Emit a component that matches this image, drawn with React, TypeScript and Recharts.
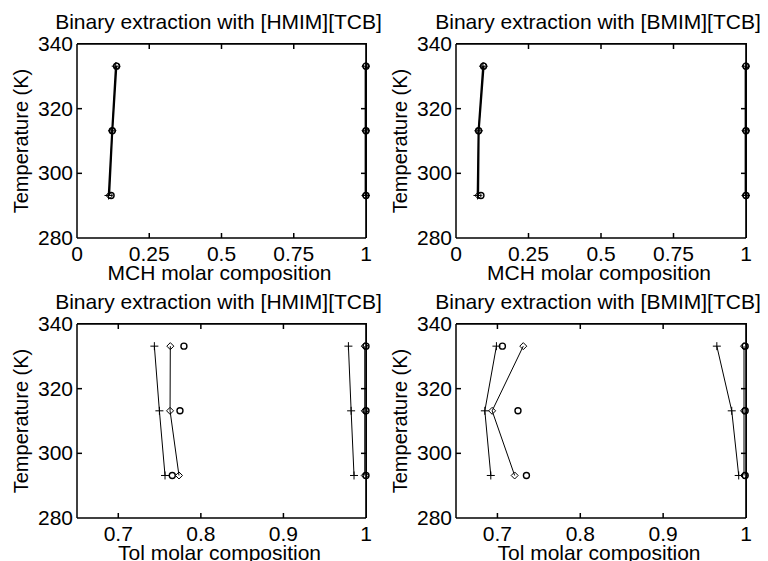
import React from 'react';
import { ScatterChart, Scatter, XAxis, YAxis } from 'recharts';

const FONT = '"Liberation Sans", Arial, Helvetica, sans-serif';

// temperatures (K) shared by every panel
const temperatures = [293.15, 313.15, 333.15];

const yTicks = [280, 300, 320, 340];
const yDomain: [number, number] = [280, 340];
const mchTicks = [0, 0.25, 0.5, 0.75, 1];
const tolTicks = [0.7, 0.8, 0.9, 1];

// MCH + [HMIM][TCB]
const mchHmimPlusExt = [0.109, 0.121, 0.134];
const mchHmimPlusRaf = [1, 1, 1];
const mchHmimDiaExt = [0.112, 0.123, 0.137];
const mchHmimDiaRaf = [0.998, 0.998, 0.998];
const mchHmimCircExt = [0.118, 0.122, 0.137];
const mchHmimCircRaf = [1, 1, 1];

// MCH + [BMIM][TCB]
const mchBmimPlusExt = [0.074, 0.077, 0.093];
const mchBmimPlusRaf = [1, 1, 1];
const mchBmimDiaExt = [0.077, 0.079, 0.096];
const mchBmimDiaRaf = [0.998, 0.998, 0.998];
const mchBmimCircExt = [0.086, 0.078, 0.095];
const mchBmimCircRaf = [1, 1, 1];

// Tol + [HMIM][TCB]
const tolHmimPlusExt = [0.7566, 0.7498, 0.7437];
const tolHmimPlusRaf = [0.9855, 0.982, 0.9787];
const tolHmimDiaExt = [0.7735, 0.7627, 0.763];
const tolHmimDiaRaf = [0.9985, 0.9985, 0.9985];
const tolHmimCircExt = [0.7654, 0.7747, 0.7795];
const tolHmimCircRaf = [1, 1, 1];

// Tol + [BMIM][TCB]
const tolBmimPlusExt = [0.692, 0.6848, 0.6988];
const tolBmimPlusRaf = [0.9912, 0.9828, 0.9648];
const tolBmimDiaExt = [0.7208, 0.6936, 0.7312];
const tolBmimDiaRaf = [0.9976, 0.9976, 0.9976];
const tolBmimCircExt = [0.735, 0.7248, 0.706];
const tolBmimCircRaf = [0.999, 0.999, 0.999];

const rows = (xs: number[]) => temperatures.map((t, i) => ({ x: xs[i], y: t }));

const PLOT_TOP = 44;
const PLOT_H = 194;

const Plus = (p: any) => (
  <path
    d={`M${p.cx - 4},${p.cy}H${p.cx + 4}M${p.cx},${p.cy - 4}V${p.cy + 4}`}
    stroke='#000'
    strokeWidth={1}
    fill='none'
  />
);

const Diamond = (p: any) => (
  <path
    d={`M${p.cx},${p.cy - 3.5}L${p.cx + 3.5},${p.cy}L${p.cx},${p.cy + 3.5}L${p.cx - 3.5},${p.cy}Z`}
    stroke='#000'
    strokeWidth={1}
    fill='none'
  />
);

const Circle = (p: any) => (
  <circle cx={p.cx} cy={p.cy} r={3} stroke='#000' strokeWidth={1.4} fill='none' />
);

// inward tick marks of the box, drawn as scatter shapes at the tick values
const TICK = { stroke: '#000', strokeWidth: 1.5, fill: 'none' };
const TickUp = (p: any) => <path d={`M${p.cx},${p.cy}V${p.cy - 5}`} {...TICK} />;
const TickDown = (p: any) => <path d={`M${p.cx},${p.cy}V${p.cy + 5}`} {...TICK} />;
const TickRight = (p: any) => <path d={`M${p.cx},${p.cy}H${p.cx + 5}`} {...TICK} />;
const TickLeft = (p: any) => <path d={`M${p.cx},${p.cy}H${p.cx - 5}`} {...TICK} />;
const NoShape = () => <g />;

const fmt = (v: number) => String(v);

const BottomTick = (p: any) => (
  <text x={p.x} y={p.y + 23} textAnchor='middle' fontSize={21} fontFamily={FONT} fill='#000'>
    {fmt(p.payload.value)}
  </text>
);

const LeftTick = (p: any) => (
  <text x={p.x - 4} y={p.y + 7} textAnchor='end' fontSize={21} fontFamily={FONT} fill='#000'>
    {fmt(p.payload.value)}
  </text>
);

const XLabel = ({ viewBox, text }: any) => (
  <text
    x={viewBox.x + viewBox.width / 2 - 2}
    y={viewBox.y + 42}
    textAnchor='middle'
    fontSize={21}
    fontFamily={FONT}
    fill='#000'
  >
    {text}
  </text>
);

const YLabel = ({ viewBox, text, title, plotW }: any) => {
  const cx = viewBox.x + viewBox.width - 49;
  const cy = viewBox.y + viewBox.height / 2;
  return (
    <g>
      <text
        x={cx}
        y={cy}
        transform={`rotate(-90, ${cx}, ${cy})`}
        textAnchor='middle'
        fontSize={20}
        fontFamily={FONT}
        fill='#000'
      >
        {text}
      </text>
      <text
        x={viewBox.x + viewBox.width + plotW / 2 - 3}
        y={viewBox.y - 15}
        textAnchor='middle'
        fontSize={21}
        fontFamily={FONT}
        fill='#000'
      >
        {title}
      </text>
    </g>
  );
};

interface PanelProps {
  left: number;
  top: number;
  title: string;
  xLabel: string;
  xDomain: [number, number];
  xTicks: number[];
  yWidth: number;
  rWidth: number;
  lineWidth: number;
  sets: number[][];
}

const Panel: React.FC<PanelProps> = ({
  left,
  top,
  title,
  xLabel,
  xDomain,
  xTicks,
  yWidth,
  rWidth,
  lineWidth,
  sets,
}) => {
  const [plusE, plusR, diaE, diaR, circE, circR] = sets;
  const seriesLine = { stroke: '#000', strokeWidth: lineWidth };
  const plotW = 384 - yWidth - rWidth;
  const [x0, x1] = xDomain;
  const [y0, y1] = yDomain;
  const boxTopRight = [
    { x: x0, y: y1 },
    { x: x1, y: y1 },
    { x: x1, y: y0 },
  ];
  const innerX = xTicks.filter((t) => t > x0 && t < x1);
  const innerY = yTicks.filter((t) => t > y0 && t < y1);
  return (
    <div style={{ position: 'absolute', left, top, width: 384, height: 300 }}>
      <ScatterChart width={384} height={300} margin={{ top: PLOT_TOP, right: rWidth, bottom: 0, left: 0 }}>
        <XAxis
          type='number'
          dataKey='x'
          domain={xDomain}
          ticks={xTicks}
          interval={0}
          height={62}
          tickSize={0}
          tickMargin={0}
          tickLine={false}
          axisLine={{ stroke: '#000', strokeWidth: 1.5 }}
          tick={<BottomTick />}
          label={<XLabel text={xLabel} />}
        />
        <YAxis
          type='number'
          dataKey='y'
          domain={yDomain}
          ticks={yTicks}
          interval={0}
          width={yWidth}
          tickSize={0}
          tickMargin={0}
          tickLine={false}
          axisLine={{ stroke: '#000', strokeWidth: 1.5 }}
          tick={<LeftTick />}
          label={<YLabel text='Temperature (K)' title={title} plotW={plotW} />}
        />
        {/* top and right edges of the axes box */}
        <Scatter
          data={boxTopRight}
          line={{ stroke: '#000', strokeWidth: 1.6 }}
          shape={NoShape}
          isAnimationActive={false}
        />
        <Scatter data={innerX.map((t) => ({ x: t, y: y0 }))} shape={TickUp} isAnimationActive={false} />
        <Scatter data={innerX.map((t) => ({ x: t, y: y1 }))} shape={TickDown} isAnimationActive={false} />
        <Scatter data={innerY.map((t) => ({ x: x0, y: t }))} shape={TickRight} isAnimationActive={false} />
        <Scatter data={innerY.map((t) => ({ x: x1, y: t }))} shape={TickLeft} isAnimationActive={false} />
        <Scatter data={rows(plusE)} line={seriesLine} shape={Plus} isAnimationActive={false} />
        <Scatter data={rows(plusR)} line={seriesLine} shape={Plus} isAnimationActive={false} />
        <Scatter data={rows(diaE)} line={seriesLine} shape={Diamond} isAnimationActive={false} />
        <Scatter data={rows(diaR)} line={seriesLine} shape={Diamond} isAnimationActive={false} />
        <Scatter data={rows(circE)} shape={Circle} isAnimationActive={false} />
        <Scatter data={rows(circR)} shape={Circle} isAnimationActive={false} />
      </ScatterChart>
      {/* frame edges again as plain borders, in case the svg ones are lost */}
      <div
        style={{
          position: 'absolute',
          left: yWidth,
          top: PLOT_TOP - 1,
          width: plotW + 1,
          height: PLOT_H + 1,
          borderTop: '1.5px solid #000',
          borderRight: '1.5px solid #000',
          boxSizing: 'border-box',
          pointerEvents: 'none',
        }}
      />
    </div>
  );
};

export default function App() {
  return (
    <div
      style={{
        position: 'fixed',
        left: 0,
        top: 0,
        width: 768,
        height: 561,
        background: '#fff',
        overflow: 'hidden',
      }}
    >
      <Panel
        left={0}
        top={0}
        title='Binary extraction with [HMIM][TCB]'
        xLabel='MCH molar composition'
        xDomain={[0, 1]}
        xTicks={mchTicks}
        yWidth={77}
        rWidth={18}
        lineWidth={1.6}
        sets={[mchHmimPlusExt, mchHmimPlusRaf, mchHmimDiaExt, mchHmimDiaRaf, mchHmimCircExt, mchHmimCircRaf]}
      />
      <Panel
        left={384}
        top={0}
        title='Binary extraction with [BMIM][TCB]'
        xLabel='MCH molar composition'
        xDomain={[0, 1]}
        xTicks={mchTicks}
        yWidth={72}
        rWidth={22}
        lineWidth={1.6}
        sets={[mchBmimPlusExt, mchBmimPlusRaf, mchBmimDiaExt, mchBmimDiaRaf, mchBmimCircExt, mchBmimCircRaf]}
      />
      <Panel
        left={0}
        top={280}
        title='Binary extraction with [HMIM][TCB]'
        xLabel='Tol molar composition'
        xDomain={[0.65, 1]}
        xTicks={tolTicks}
        yWidth={77}
        rWidth={18}
        lineWidth={1}
        sets={[tolHmimPlusExt, tolHmimPlusRaf, tolHmimDiaExt, tolHmimDiaRaf, tolHmimCircExt, tolHmimCircRaf]}
      />
      <Panel
        left={384}
        top={280}
        title='Binary extraction with [BMIM][TCB]'
        xLabel='Tol molar composition'
        xDomain={[0.65, 1]}
        xTicks={tolTicks}
        yWidth={72}
        rWidth={22}
        lineWidth={1}
        sets={[tolBmimPlusExt, tolBmimPlusRaf, tolBmimDiaExt, tolBmimDiaRaf, tolBmimCircExt, tolBmimCircRaf]}
      />
    </div>
  );
}
